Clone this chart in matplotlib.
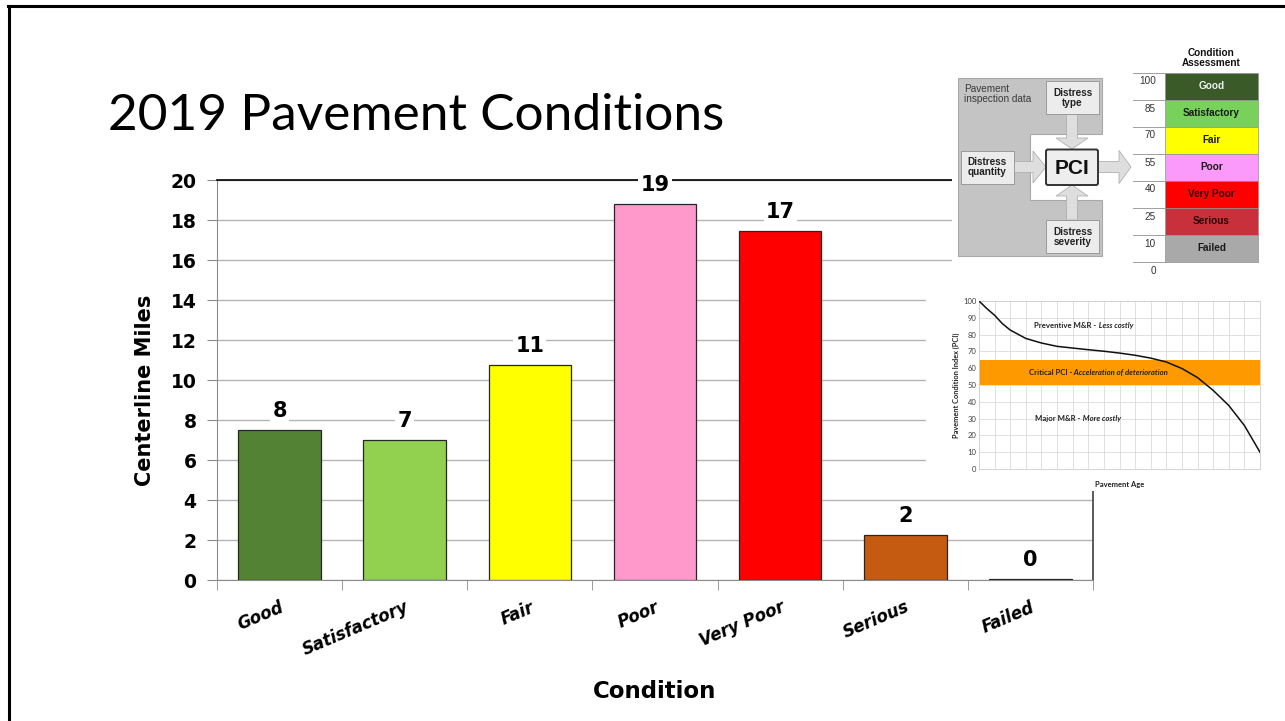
import matplotlib
matplotlib.use('Agg')
import matplotlib.pyplot as plt
import numpy as np
from matplotlib.patches import Rectangle, Polygon, FancyArrow, FancyBboxPatch
from matplotlib.lines import Line2D

W, H = 1285, 721

# ---------------- data ----------------
categories = ['Good', 'Satisfactory', 'Fair', 'Poor', 'Very Poor', 'Serious', 'Failed']
miles = [7.5, 7.0, 10.75, 18.8, 17.45, 2.25, 0.05]
miles_labels = ['8', '7', '11', '19', '17', '2', '0']
bar_colors = ['#548235', '#92d050', '#ffff00', '#ff99cc', '#ff0000', '#c55a11', '#595959']
y_ticks = [0, 2, 4, 6, 8, 10, 12, 14, 16, 18, 20]

scale_names = ['Good', 'Satisfactory', 'Fair', 'Poor', 'Very Poor', 'Serious', 'Failed']
scale_bounds = [100, 85, 70, 55, 40, 25, 10, 0]
scale_colors = ['#3a5a27', '#77d15a', '#ffff00', '#fb9afb', '#ff0000', '#c8303c', '#a9a9a9']
scale_text_colors = ['#f0f0f0', '#1a1a1a', '#1a1a1a', '#1a1a1a', '#2a0000', '#2a0000', '#1a1a1a']

age = [0, 0.5, 1, 1.5, 2, 3, 4, 5, 6, 7, 8, 9, 10, 11, 12, 13, 14, 15, 16, 17, 18]
pci = [100, 95.5, 91.5, 86.5, 82.7, 77.7, 75, 73, 72, 71, 70.1, 69, 67.7, 66, 63.7, 59.8, 54.4, 46.8, 37.8, 25.9, 10]
pci_ticks = [0, 10, 20, 30, 40, 50, 60, 70, 80, 90, 100]
critical_band = (50, 65)


def rect(x0, y0, x1, y1):
    return [x0 / W, 1 - y1 / H, (x1 - x0) / W, (y1 - y0) / H]


def fx(x):
    return x / W


def fy(y):
    return 1 - y / H


fig = plt.figure(figsize=(W / 100, H / 100), dpi=100)
fig.patch.set_facecolor('white')

# slide frame
fig.add_artist(Line2D([fx(8), 1], [fy(6), fy(6)], color='black', lw=2.2))
fig.add_artist(Line2D([fx(9), fx(9)], [0, fy(6)], color='black', lw=2.2))

# title
fig.text(fx(108), fy(130), '2019 Pavement Conditions', fontsize=37, family='Lato',
         fontweight='normal', ha='left', va='baseline', color='black')

# ---------------- main bar chart ----------------
ax = fig.add_axes(rect(217, 180, 1093, 580))
x = np.arange(len(categories)) + 0.5
ax.bar(x, miles, width=0.66, color=bar_colors, edgecolor='#262626', linewidth=0.9, zorder=3)
ax.set_xlim(0, len(categories))
ax.set_ylim(0, 20)
ax.set_yticks(y_ticks)
ax.set_yticklabels([str(t) for t in y_ticks], fontsize=13.5, fontweight='bold', family='DejaVu Sans')
ax.tick_params(axis='y', length=7.2, color='#8c8c8c', pad=7.5)
ax.set_xticks(np.arange(len(categories) + 1), minor=True)
ax.set_xticks(x)
ax.set_xticklabels(categories, rotation=23, ha='right', rotation_mode='anchor', fontsize=12,
                   fontweight='bold', fontstyle='italic', family='DejaVu Sans')
ax.tick_params(axis='x', which='major', length=0, pad=13)
ax.tick_params(axis='x', which='minor', length=7.2, color='#8c8c8c')
ax.yaxis.grid(True, color='#b5b5b5', lw=1)
ax.set_axisbelow(True)
ax.spines['left'].set_color('#8c8c8c')
ax.spines['bottom'].set_color('#8c8c8c')
ax.spines['top'].set_color('black')
ax.spines['right'].set_color('#404040')
for s in ['top', 'right']:
    ax.spines[s].set_linewidth(1.2)

for xi, v, lbl in zip(x, miles, miles_labels):
    ax.annotate(lbl, (xi, v), xytext=(0, 14), textcoords='offset points', ha='center', va='center',
                fontsize=15, fontweight='bold', family='DejaVu Sans', zorder=5,
                bbox=dict(fc='white', ec='none', pad=1.5))

fig.text(fx(145), fy(390), 'Centerline Miles', rotation=90, ha='center', va='center',
         fontsize=15, fontweight='bold', family='DejaVu Sans')
fig.text(fx(655), fy(692), 'Condition', ha='center', va='center',
         fontsize=16.5, fontweight='bold', family='DejaVu Sans')

# ---------------- PCI diagram + condition scale ----------------
dax = fig.add_axes(rect(952, 30, 1285, 282))
dax.set_xlim(952, 1285)
dax.set_ylim(282, 30)
dax.set_facecolor('white')
dax.set_xticks([])
dax.set_yticks([])
for s in dax.spines.values():
    s.set_visible(False)

gray_poly = Polygon([(958, 77.5), (1102, 77.5), (1102, 134), (1030, 134), (1030, 200),
                     (1102, 200), (1102, 256), (958, 256)], closed=True,
                    fc='#c4c4c4', ec='#a8a8a8', lw=0.8, zorder=1)
dax.add_patch(gray_poly)

arrow_kw = dict(length_includes_head=True, fc='#dedede', ec='#b0b0b0', lw=0.6, zorder=2)
dax.add_patch(FancyArrow(1072, 114, 0, 35, width=11, head_width=32, head_length=11, **arrow_kw))
dax.add_patch(FancyArrow(1013, 167, 33, 0, width=11, head_width=32, head_length=13, **arrow_kw))
dax.add_patch(FancyArrow(1072, 220, 0, -35, width=11, head_width=32, head_length=11, **arrow_kw))
dax.add_patch(FancyArrow(1098, 167, 33, 0, width=11, head_width=33, head_length=12, **arrow_kw))

box_kw = dict(fc='#ececec', ec='#9a9a9a', lw=0.7, zorder=3)
dax.add_patch(Rectangle((1046, 81), 53, 33, **box_kw))
dax.add_patch(Rectangle((961, 150.5), 52.6, 33, **box_kw))
dax.add_patch(Rectangle((1046, 220), 53, 33, **box_kw))
dax.add_patch(FancyBboxPatch((1046, 149.5), 52, 35.5, boxstyle='round,pad=0,rounding_size=2',
                             fc='#eeeeee', ec='#333333', lw=1.4, zorder=3))

dtxt = dict(ha='center', va='center', fontsize=7.2, fontweight='bold', family='Liberation Sans',
            color='#222222', linespacing=1.0, zorder=4)
dax.text(1072.5, 97.5, 'Distress\ntype', **dtxt)
dax.text(987.3, 167, 'Distress\nquantity', **dtxt)
dax.text(1072.5, 236.5, 'Distress\nseverity', **dtxt)
dax.text(1072, 168, 'PCI', ha='center', va='center', fontsize=15, fontweight='bold',
         family='Liberation Sans', color='#111111', zorder=4)
dax.text(964, 84, 'Pavement\ninspection data', ha='left', va='top', fontsize=7.2,
         family='Liberation Sans', color='#3a3a3a', linespacing=1.05, zorder=4)

# condition scale
row_top, row_h = 72.5, 27.0
col_x0, col_x1, line_x0 = 1165.4, 1257.5, 1132.6
for i, (name, c, tc) in enumerate(zip(scale_names, scale_colors, scale_text_colors)):
    y0 = row_top + i * row_h
    dax.add_patch(Rectangle((col_x0, y0), col_x1 - col_x0, row_h, fc=c, ec='#909090', lw=0.5, zorder=2))
    dax.text((col_x0 + col_x1) / 2, y0 + row_h / 2, name, ha='center', va='center', fontsize=7.2,
             fontweight='bold', family='Liberation Sans', color=tc, zorder=4)
for i, b in enumerate(scale_bounds):
    yb = row_top + i * row_h
    dax.plot([line_x0, col_x0], [yb, yb], color='#909090', lw=0.6, zorder=2)
    dax.text(1156, yb + 4, str(b), ha='right', va='top', fontsize=7.2,
             family='Liberation Sans', color='#333333', zorder=4)
dax.text(1211, 68, 'Condition\nAssessment', ha='center', va='bottom', fontsize=7.2,
         fontweight='bold', family='Liberation Sans', color='#111111', linespacing=1.0)

# ---------------- PCI deterioration curve ----------------
wax = fig.add_axes(rect(926, 282, 1285, 491))
wax.set_facecolor('white')
wax.set_xticks([])
wax.set_yticks([])
for s in wax.spines.values():
    s.set_visible(False)

cax = fig.add_axes(rect(979, 301, 1260, 469))
cax.axhspan(critical_band[0], critical_band[1], color='#ff9900', zorder=2, lw=0)
cax.plot(age, pci, color='#111111', lw=1.1, zorder=4)
cax.set_xlim(0, 18)
cax.set_ylim(0, 100)
cax.set_xticks(range(19))
cax.set_xticklabels([])
cax.set_yticks(pci_ticks)
cax.set_yticklabels([str(t) for t in pci_ticks], fontsize=5.5, family='Lato', color='#404040')
cax.tick_params(length=0, pad=2)
cax.grid(True, color='#dadada', lw=0.6, zorder=0)
cax.set_axisbelow(True)
for s in cax.spines.values():
    s.set_color('#cfcfcf')
    s.set_linewidth(0.6)
cax.set_xlabel('Pavement Age', fontsize=5.5, fontweight='bold', family='Lato', labelpad=7, color='#222222')
cax.set_ylabel('Pavement Condition Index (PCI)', fontsize=5.3, fontweight='bold', family='Lato',
               labelpad=2, color='#222222')

ctxt = dict(fontsize=5.6, fontweight='bold', family='Lato', color='#222222', zorder=5)


def two_part(xs, ys, first, second):
    t1 = cax.text(xs, ys, first, va='center', ha='left', **ctxt)
    cax.annotate(second, xy=(1, 0.5), xycoords=t1, va='center', ha='left', fontstyle='italic', **ctxt)


two_part(3.54, 85.6, 'Preventive M&R -', ' Less costly')
two_part(3.18, 57.4, 'Critical PCI -', ' Acceleration of deterioration')
two_part(3.6, 30.3, 'Major M&R -', ' More costly')

fig.savefig('out.png', dpi=100, facecolor='white')
